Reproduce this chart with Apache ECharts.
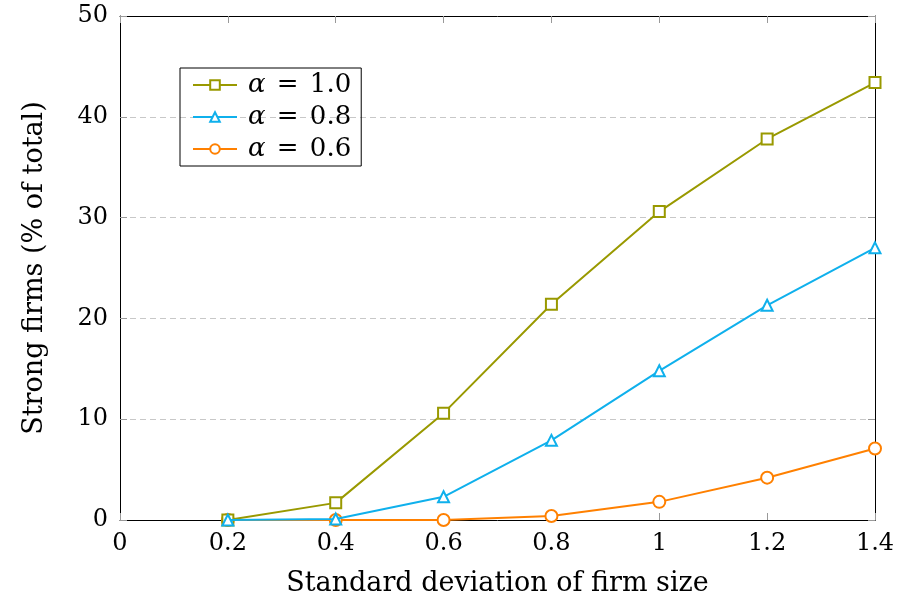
<!DOCTYPE html>
<html>
<head>
<meta charset="utf-8">
<script src="https://cdn.jsdelivr.net/npm/echarts@6/dist/echarts.min.js"></script>
<style>
  html, body { margin: 0; padding: 0; background: #fff; }
</style>
</head>
<body>
<div id="chartStrong" style="width:899px;height:603px;"></div>
<script>
  // x values: standard deviation of firm size
  var sigma = [0.2, 0.4, 0.6, 0.8, 1.0, 1.2, 1.4];
  // strong firms (% of total) for each alpha
  var alpha10 = [0, 1.7, 10.6, 21.4, 30.6, 37.8, 43.4];
  var alpha08 = [0, 0.1, 2.3, 7.9, 14.8, 21.3, 27.0];
  var alpha06 = [0, 0, 0, 0.4, 1.8, 4.2, 7.1];
  var seriesNames = ['α = 1.0', 'α = 0.8', 'α = 0.6'];

  var FONT = 'DejaVu Serif';
  var FS = 24;      // tick labels
  var FS_T = 27;    // axis titles
  var FS_L = 26;    // legend

  function pairs(ys) {
    var out = [];
    for (var i = 0; i < sigma.length; i++) out.push([sigma[i], ys[i]]);
    return out;
  }

  function fmtX(v) {
    var r = Math.round(v * 10) / 10;
    return String(r);
  }

  var myChart = echarts.init(document.getElementById('chartStrong'));

  var option = {
    animation: false,
    grid: { left: 120, right: 24, top: 16, bottom: 83 },
    legend: {
      left: 180, top: 68,
      orient: 'vertical',
      padding: [4, 10, 4, 12],
      itemGap: 6,
      itemWidth: 44,
      itemHeight: 12,
      borderColor: '#000',
      borderWidth: 1,
      data: seriesNames,
      formatter: function (name) {
        return '{a|α} {b|=} ' + name.split('= ')[1];
      },
      textStyle: {
        fontFamily: FONT, fontSize: FS_L, color: '#000', padding: [0, 0, 0, 6],
        rich: {
          a: { fontFamily: FONT, fontSize: FS_L, fontStyle: 'italic', color: '#000' },
          b: { fontFamily: FONT, fontSize: FS_L, color: '#000', padding: [0, 3, 0, 3] }
        }
      }
    },
    xAxis: [
      {
        type: 'value', min: 0, max: 1.4, interval: 0.2,
        name: 'Standard deviation of firm size',
        nameLocation: 'middle', nameGap: 50,
        nameTextStyle: { fontFamily: FONT, fontSize: FS_T, color: '#000' },
        axisLine: { show: true, onZero: false, lineStyle: { color: '#000', width: 1 } },
        axisTick: { show: true, inside: true, length: 7, lineStyle: { color: '#999' } },
        axisLabel: { formatter: fmtX, fontFamily: FONT, fontSize: FS, color: '#000', margin: 12 },
        splitLine: { show: false }
      },
      {
        type: 'value', min: 0, max: 1.4, interval: 0.2, position: 'top',
        axisLine: { show: true, onZero: false, lineStyle: { color: '#000', width: 1 } },
        axisTick: { show: true, inside: true, length: 7, lineStyle: { color: '#999' } },
        axisLabel: { show: false },
        splitLine: { show: false }
      }
    ],
    yAxis: [
      {
        type: 'value', min: 0, max: 50, interval: 10,
        name: 'Strong firms (% of total)',
        nameLocation: 'middle', nameGap: 72,
        nameTextStyle: { fontFamily: FONT, fontSize: FS_T, color: '#000' },
        axisLine: { show: true, onZero: false, lineStyle: { color: '#000', width: 1 } },
        axisTick: { show: true, inside: true, length: 7, lineStyle: { color: '#999' } },
        axisLabel: { fontFamily: FONT, fontSize: FS, color: '#000', margin: 12 },
        splitLine: { show: true, lineStyle: { color: '#c8c8c8', type: [6, 4], width: 1 } }
      },
      {
        type: 'value', min: 0, max: 50, interval: 10, position: 'right',
        axisLine: { show: true, onZero: false, lineStyle: { color: '#000', width: 1 } },
        axisTick: { show: true, inside: true, length: 7, lineStyle: { color: '#999' } },
        axisLabel: { show: false },
        splitLine: { show: false }
      }
    ],
    series: [
      {
        name: seriesNames[0], type: 'line', data: pairs(alpha10),
        symbol: 'rect', symbolSize: 11, showAllSymbol: true,
        lineStyle: { color: '#999900', width: 2 },
        itemStyle: { color: '#fff', borderColor: '#999900', borderWidth: 2 },
        z: 3
      },
      {
        name: seriesNames[1], type: 'line', data: pairs(alpha08),
        symbol: 'triangle', symbolSize: 11, showAllSymbol: true,
        lineStyle: { color: '#0fb0ec', width: 2 },
        itemStyle: { color: '#fff', borderColor: '#0fb0ec', borderWidth: 2 },
        z: 4
      },
      {
        name: seriesNames[2], type: 'line', data: pairs(alpha06),
        symbol: 'circle', symbolSize: 12, showAllSymbol: true,
        lineStyle: { color: '#ff8000', width: 2 },
        itemStyle: { color: '#fff', borderColor: '#ff8000', borderWidth: 2 },
        z: 2
      }
    ]
  };

  myChart.setOption(option);
</script>
</body>
</html>
